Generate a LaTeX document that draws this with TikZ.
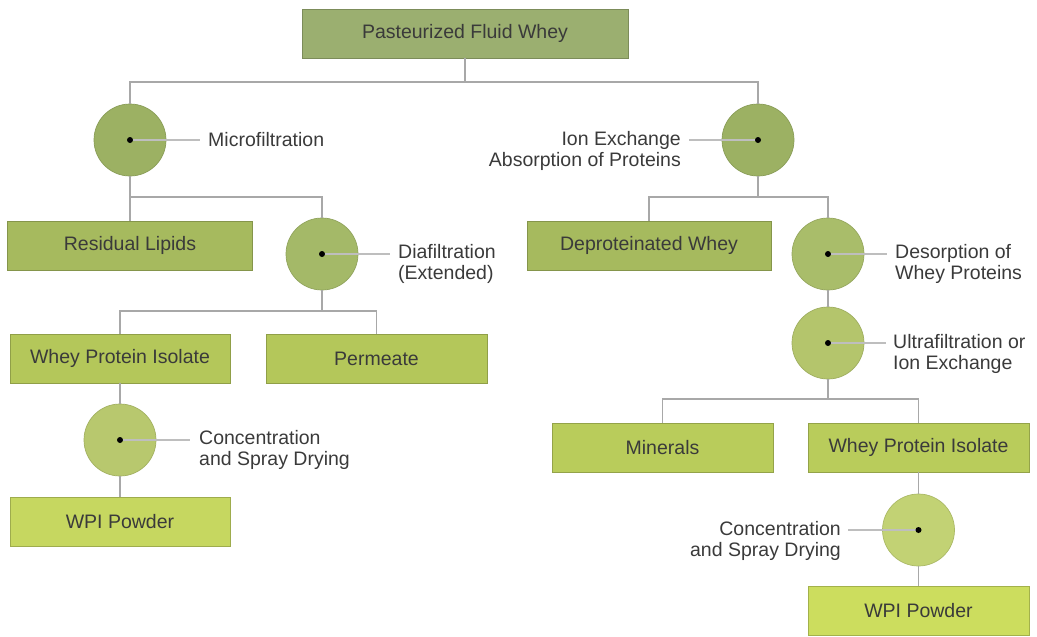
\documentclass[tikz,border=0pt]{standalone}
\usepackage{fontspec}
\setmainfont{Liberation Sans}
\definecolor{txt}{HTML}{3A3A3A}
\definecolor{linegray}{HTML}{A8A8A8}
\definecolor{ftop}{HTML}{9BAF70}
\definecolor{fltwo}{HTML}{A6BA5E}
\definecolor{flthree}{HTML}{B4C75A}
\definecolor{flfour}{HTML}{B9CC5B}
\definecolor{fpowl}{HTML}{C6D760}
\definecolor{fpowr}{HTML}{CCDD5E}
\definecolor{cA}{HTML}{9CB163}
\definecolor{cB}{HTML}{A4B968}
\definecolor{cC}{HTML}{A9BD6A}
\definecolor{cD}{HTML}{B4C56C}
\definecolor{cE}{HTML}{B8C86E}
\definecolor{cF}{HTML}{C2D274}
\newcommand{\lblfont}{\fontsize{19.5}{21}\selectfont}
\tikzset{
  box/.style={rectangle, fill=#1, draw=#1!80!black, line width=0.8pt,
    minimum height=49pt, inner sep=0pt, font=\lblfont, text=txt},
  proc/.style={circle, fill=#1, draw=#1!88!black, line width=0.7pt,
    minimum size=72pt, inner sep=0pt},
  conn/.style={draw=linegray, line width=1.8pt},
  leader/.style={draw=linegray!75, line width=1.6pt},
  lab/.style={font=\lblfont, text=txt, inner sep=0pt},
  dot/.style={circle, fill=black, inner sep=0pt, minimum size=6pt}
}
\begin{document}
\begin{tikzpicture}[x=1pt,y=-1pt]
\useasboundingbox (0,0) rectangle (1037,637);
% boxes
\node[box=ftop, minimum width=326pt] (top) at (465,33.5) {Pasteurized Fluid Whey};
\node[box=fltwo, minimum width=245pt] (lipids) at (130,245.5) {Residual Lipids};
\node[box=fltwo, minimum width=244pt] (deprot) at (649,245.5) {Deproteinated Whey};
\node[box=flthree, minimum width=220pt] (wpil) at (120,358.5) {Whey Protein Isolate};
\node[box=flthree, minimum width=221pt] (perm) at (376.5,358.5) {Permeate};
\node[box=fpowl, minimum width=220pt] (powl) at (120,521.5) {WPI Powder};
\node[box=flfour, minimum width=221pt] (miner) at (662.5,447.5) {Minerals};
\node[box=flfour, minimum width=221pt] (wpir) at (918.5,447.5) {Whey Protein Isolate};
\node[box=fpowr, minimum width=221pt] (powr) at (918.5,611) {WPI Powder};
% process circles
\node[proc=cA] (micro) at (130,140) {};
\node[proc=cA] (ionx) at (758,140) {};
\node[proc=cB] (diaf) at (322,254) {};
\node[proc=cC] (desor) at (828,254) {};
\node[proc=cD] (ultra) at (828,343) {};
\node[proc=cE] (concl) at (120,440) {};
\node[proc=cF] (concr) at (918.5,530) {};
% junctions
\coordinate (j0) at (465,82);
\coordinate (j1) at (130,197);
\coordinate (j2) at (322,311);
\coordinate (j3) at (758,197);
\coordinate (j4) at (828,399);
% connectors
\draw[conn] (top.south) -- (j0);
\draw[conn] (micro.north) |- (j0) -| (ionx.north);
\draw[conn] (micro.south) -- (j1);
\draw[conn] (lipids.north) -- (j1) -| (diaf.north);
\draw[conn] (diaf.south) -- (j2);
\draw[conn] (wpil.north) |- (j2) -| (perm.north);
\draw[conn] (wpil.south) -- (concl.north);
\draw[conn] (concl.south) -- (powl.north);
\draw[conn] (ionx.south) -- (j3);
\draw[conn] (deprot.north) |- (j3) -| (desor.north);
\draw[conn] (desor.south) -- (ultra.north);
\draw[conn] (ultra.south) -- (j4);
\draw[conn] (miner.north) |- (j4) -| (wpir.north);
\draw[conn] (wpir.south) -- (concr.north);
\draw[conn] (concr.south) -- (powr.north);
% labels
\node[lab, anchor=west] (lmicro) at (208,140) {Microfiltration};
\node[lab, anchor=east, align=right] (lionx) at (681,150.5) {Ion Exchange\\Absorption of Proteins};
\node[lab, anchor=west, align=left] (ldiaf) at (398,264) {Diafiltration\\(Extended)};
\node[lab, anchor=west, align=left] (ldesor) at (895,264) {Desorption of\\Whey Proteins};
\node[lab, anchor=west, align=left] (lultra) at (893,353.5) {Ultrafiltration or\\Ion Exchange};
\node[lab, anchor=west, align=left] (lconcl) at (199,450) {Concentration\\and Spray Drying};
\node[lab, anchor=east, align=right] (lconcr) at (841,540.5) {Concentration\\and Spray Drying};
% leader ends
\coordinate (emicro) at (200,140);
\coordinate (eionx) at (689,140);
\coordinate (ediaf) at (390,254);
\coordinate (edesor) at (887,254);
\coordinate (eultra) at (886,343);
\coordinate (econcl) at (190,440);
\coordinate (econcr) at (848,530);
\draw[leader] (micro.center) -- (emicro);
\draw[leader] (ionx.center) -- (eionx);
\draw[leader] (diaf.center) -- (ediaf);
\draw[leader] (desor.center) -- (edesor);
\draw[leader] (ultra.center) -- (eultra);
\draw[leader] (concl.center) -- (econcl);
\draw[leader] (concr.center) -- (econcr);
% dots
\node[dot] (dmicro) at (micro.center) {};
\node[dot] (dionx) at (ionx.center) {};
\node[dot] (ddiaf) at (diaf.center) {};
\node[dot] (ddesor) at (desor.center) {};
\node[dot] (dultra) at (ultra.center) {};
\node[dot] (dconcl) at (concl.center) {};
\node[dot] (dconcr) at (concr.center) {};
\end{tikzpicture}
\end{document}
